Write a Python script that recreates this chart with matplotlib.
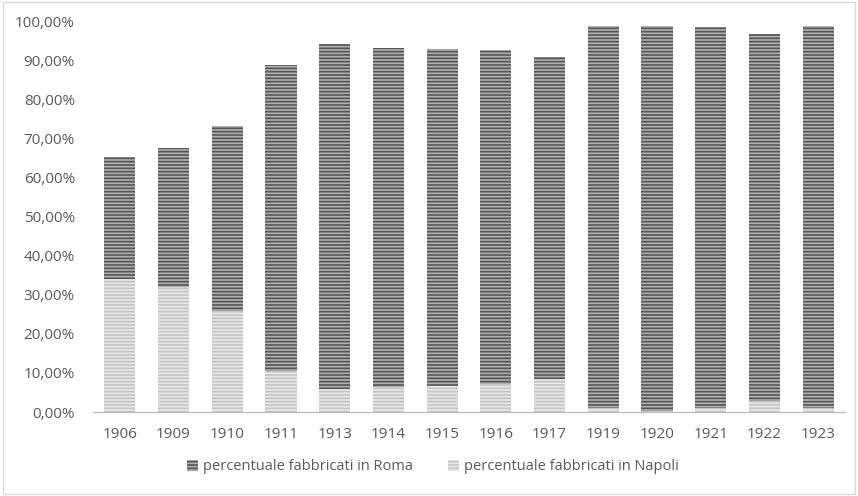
import matplotlib
matplotlib.use("Agg")
import matplotlib.pyplot as plt
from matplotlib.patches import Patch, Rectangle
from matplotlib.ticker import FuncFormatter
import numpy as np

# Share of buildings by year (percent)
years = ["1906", "1909", "1910", "1911", "1913", "1914", "1915",
         "1916", "1917", "1919", "1920", "1921", "1922", "1923"]
napoli = [34.0, 32.1, 25.9, 10.6, 5.8, 6.5, 6.7, 7.1, 8.5, 0.9, 0.3, 1.0, 2.8, 1.0]
roma = [31.3, 35.4, 47.4, 78.2, 88.4, 86.8, 86.3, 85.5, 82.5, 97.9, 98.6, 97.6, 94.0, 97.8]

label_roma = "percentuale fabbricati in Roma"
label_napoli = "percentuale fabbricati in Napoli"

plt.rcParams["font.family"] = ["Open Sans", "DejaVu Sans"]
plt.rcParams["hatch.linewidth"] = 1.2

text_color = "#595959"
roma_face, roma_stripe = "#b0b0b0", "#555555"
napoli_face, napoli_stripe = "#e8e8e8", "#c4c4c4"

fig = plt.figure(figsize=(8.58, 4.96), dpi=100)
fig.patches.append(Rectangle((0.003, 0.004), 0.994, 0.992, transform=fig.transFigure,
                             fill=False, edgecolor="#d9d9d9", linewidth=1.0))

ax = fig.add_axes([93 / 858, (496 - 412) / 496, 752 / 858, 390.5 / 496])

x = np.arange(len(years))
w = 0.58
ax.bar(x, np.array(napoli) / 100, width=w, color=napoli_face, edgecolor=napoli_stripe,
       hatch="-----", linewidth=0, label=label_napoli)
ax.bar(x, np.array(roma) / 100, width=w, bottom=np.array(napoli) / 100, color=roma_face,
       edgecolor=roma_stripe, hatch="-----", linewidth=0, label=label_roma)

ax.set_xlim(-0.5, len(years) - 0.5)
ax.set_ylim(0, 1.0)
ax.set_yticks(np.arange(0, 1.01, 0.1))
ax.yaxis.set_major_formatter(FuncFormatter(lambda v, p: f"{v * 100:.2f}%".replace(".", ",")))
ax.set_xticks(x)
ax.set_xticklabels(years)

for s in ["top", "right", "left"]:
    ax.spines[s].set_visible(False)
ax.spines["bottom"].set_color("#bfbfbf")
ax.spines["bottom"].set_linewidth(1.0)
ax.tick_params(axis="both", length=0, colors=text_color, labelsize=11)
ax.tick_params(axis="x", pad=11)
ax.tick_params(axis="y", pad=13)

handles = [
    Patch(facecolor=roma_face, edgecolor=roma_stripe, hatch="-----", linewidth=0, label=label_roma),
    Patch(facecolor=napoli_face, edgecolor=napoli_stripe, hatch="-----", linewidth=0, label=label_napoli),
]
leg = fig.legend(handles=handles, loc="center", bbox_to_anchor=(0.505, (496 - 467) / 496),
                 ncol=2, frameon=False, fontsize=10.5, handlelength=0.7, handleheight=0.7,
                 handletextpad=0.4, columnspacing=2.4)
for t in leg.get_texts():
    t.set_color(text_color)

fig.savefig("out.png", dpi=100)
